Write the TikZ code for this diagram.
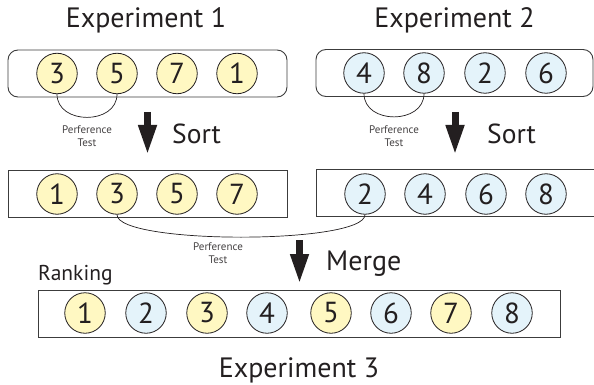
\documentclass[tikz,border=0pt]{standalone}
\usepackage{fontspec}
\setmainfont{PT Sans}
\usetikzlibrary{arrows.meta}
\definecolor{ink}{HTML}{231F20}
\definecolor{frame}{HTML}{3C3C3C}
\definecolor{chipY}{HTML}{FFF8C2}
\definecolor{chipB}{HTML}{E4F3FA}
\tikzset{
  chip/.style={circle, draw=ink, line width=0.8pt, minimum size=40.5pt, inner sep=0pt,
    text=ink, font=\fontsize{29}{29}\selectfont},
  ychip/.style={chip, fill=chipY},
  bchip/.style={chip, fill=chipB},
  tray/.style={draw=frame, line width=0.9pt, minimum height=47pt, inner sep=0pt},
  note/.style={font=\fontsize{11}{13}\selectfont, align=center, text=ink!85},
  title/.style={font=\fontsize{28}{28}\selectfont, text=ink, anchor=base, inner sep=0pt},
  verb/.style={font=\fontsize{27.5}{27.5}\selectfont, text=ink, anchor=base west, inner sep=0pt},
  bigarrow/.style={ink, line width=7pt, -{Triangle[length=30pt,width=17pt]}},
  link/.style={draw=ink, line width=0.7pt}
}
\begin{document}
\begin{tikzpicture}[x=1pt, y=-1pt]
\useasboundingbox (0,0) rectangle (594,385);
\clip (0,0) rectangle (594,385);

% titles
\node[title] (t1) at (146,28) {Experiment 1};
\node[title] (t2) at (454.5,28) {Experiment 2};
\node[title] (t3) at (299,377) {Experiment 3};

% unsorted trays
\node[tray, rounded corners=10pt, minimum width=279pt] (u1) at (147.5,73.5) {};
\node[tray, rounded corners=10pt, minimum width=277pt] (u2) at (454.5,73) {};
\node[ychip] (a3) at (57,73.5) {3};
\node[ychip] (a5) at (117,73.5) {5};
\node[ychip] (a7) at (177,73.5) {7};
\node[ychip] (a1) at (237,73.5) {1};
\node[bchip] (b4) at (364,73) {4};
\node[bchip] (b8) at (424,73) {8};
\node[bchip] (b2) at (485,73) {2};
\node[bchip] (b6) at (546,73) {6};

% preference tests between two items
\draw[link] (a3.south) .. controls +(0,31) and +(0,31) .. (a5.south);
\draw[link] (b4.south) .. controls +(0,31) and +(0,31) .. (b8.south);
\node[note] (p1) at (87,136.5) {Perference\\Test};
\node[note] (p2) at (394,136.5) {Perference\\Test};

% sort arrows
\coordinate (s1a) at (147.5,112);
\coordinate (s1b) at (147.5,155);
\coordinate (s2a) at (455,112);
\coordinate (s2b) at (455,155);
\draw[bigarrow] (s1a) -- (s1b);
\draw[bigarrow] (s2a) -- (s2b);
\node[verb] (sort1) at (172,143) {Sort};
\node[verb] (sort2) at (487,143) {Sort};

% sorted trays
\node[tray, minimum width=279pt] (r1) at (147.5,193.5) {};
\node[tray, minimum width=290pt] (r2) at (461,193) {};
\node[ychip] (c1) at (57,194) {1};
\node[ychip] (c3) at (117,194) {3};
\node[ychip] (c5) at (177,194) {5};
\node[ychip] (c7) at (237,194) {7};
\node[bchip] (d2) at (365,194) {2};
\node[bchip] (d4) at (425,194) {4};
\node[bchip] (d6) at (486,194) {6};
\node[bchip] (d8) at (546,194) {8};

% merge comparison
\draw[link] (c3.south) .. controls +(0,30) and +(0,30) .. (d2.south);
\node[note] (p3) at (218,253.5) {Perference\\Test};

% merge arrow
\coordinate (m1a) at (299.5,240);
\coordinate (m1b) at (299.5,284);
\draw[bigarrow] (m1a) -- (m1b);
\node[verb, font=\fontsize{28}{28}\selectfont] (merge) at (326,270) {Merge};
\node[verb, font=\fontsize{21.5}{21.5}\selectfont] (rank) at (38,280) {Ranking};

% final ranking tray
\node[tray, minimum width=522pt] (fin) at (299,313.5) {};
\node[ychip] (e1) at (85,313) {1};
\node[bchip] (e2) at (146,313) {2};
\node[ychip] (e3) at (207,313) {3};
\node[bchip] (e4) at (267,313) {4};
\node[ychip] (e5) at (331,313) {5};
\node[bchip] (e6) at (391,313) {6};
\node[ychip] (e7) at (451,313) {7};
\node[bchip] (e8) at (512,313) {8};
\end{tikzpicture}
\end{document}
